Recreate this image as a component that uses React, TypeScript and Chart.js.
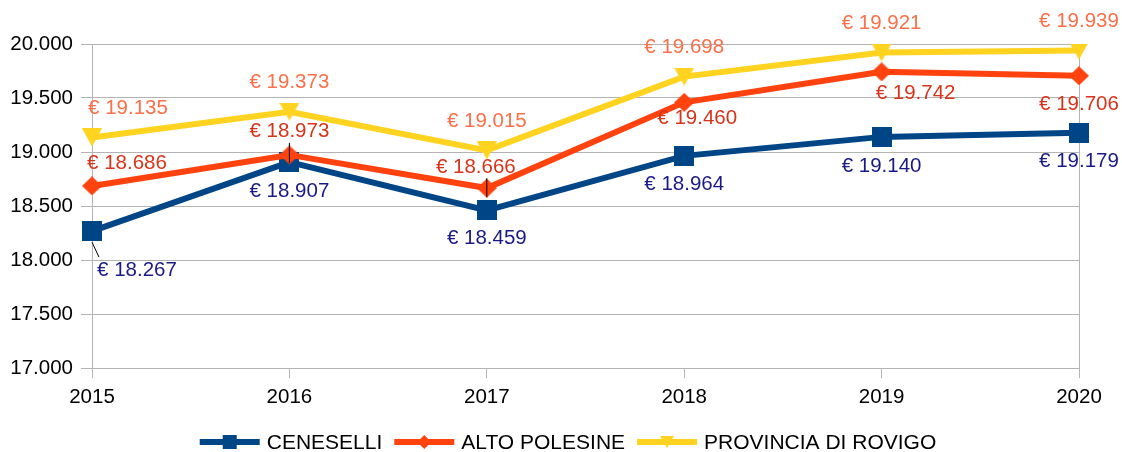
import React, { useEffect, useRef } from 'react';
import { Chart, registerables } from 'chart.js';
Chart.register(...registerables);

const years = ['2015', '2016', '2017', '2018', '2019', '2020'];
const ceneselli = [18267, 18907, 18459, 18964, 19140, 19179];
const altoPolesine = [18686, 18973, 18666, 19460, 19742, 19706];
const provinciaRovigo = [19135, 19373, 19015, 19698, 19921, 19939];
const yMin = 17000;
const yMax = 20000;
const yStep = 500;
const seriesNames = ['CENESELLI', 'ALTO POLESINE', 'PROVINCIA DI ROVIGO'];

const FONT = '"Liberation Sans", Arial, sans-serif';
const FS = 20.5;
const LEGEND_FS = 21;

const lineColors = ['#004586', '#ff420e', '#ffd320'];
const labelColors = ['#1a1a86', '#d8341a', '#fb7048'];
const markerKinds = ['square', 'diamond', 'triangle'];
const markerSizes = [[20, 20], [20, 19], [20, 18]];

// label placement offsets (style), per series per point
const labelOffsets = [
  [[45, 39], [0, 29], [0, 28], [0, 28], [0, 29], [0, 29]],
  [[35, -23], [0, -24], [-11, -21], [13, 16], [34, 21], [0, 29]],
  [[36, -29], [0, -29], [0, -29], [0, -29], [0, -29], [0, -29]],
];
// leader lines (style): [series, point, dx1, dy1, dx2, dy2]
const leaders = [
  [0, 0, 0, 11, 7, 26],
  [1, 1, 0, -12, 0, 8],
  [1, 2, 0, -10, 0, 9],
];

function fmt(v: number) {
  return Math.round(v).toString().replace(/\B(?=(\d{3})+(?!\d))/g, '.');
}

function drawShape(g: CanvasRenderingContext2D, kind: string, x: number, y: number, w: number, h: number) {
  g.beginPath();
  if (kind === 'square') g.rect(x, y, w, h);
  else if (kind === 'diamond') {
    g.moveTo(x + w / 2, y); g.lineTo(x + w, y + h / 2); g.lineTo(x + w / 2, y + h); g.lineTo(x, y + h / 2); g.closePath();
  } else {
    g.moveTo(x, y); g.lineTo(x + w, y); g.lineTo(x + w / 2, y + h); g.closePath();
  }
  g.fill();
}

function makeMarker(kind: string, color: string, w: number, h: number) {
  const c = document.createElement('canvas');
  c.width = w; c.height = h;
  const g = c.getContext('2d')!;
  g.fillStyle = color;
  drawShape(g, kind, 0, 0, w, h);
  return c;
}

export default function App() {
  const ref = useRef<HTMLCanvasElement>(null);
  useEffect(() => {
    const seriesData = [ceneselli, altoPolesine, provinciaRovigo];
    const markers = seriesData.map((_, i) => makeMarker(markerKinds[i], lineColors[i], markerSizes[i][0], markerSizes[i][1]));

    const labelPlugin = {
      id: 'labels',
      afterDatasetsDraw(chart: any) {
        const ctx = chart.ctx;
        ctx.save();
        ctx.strokeStyle = '#000';
        ctx.lineWidth = 1;
        leaders.forEach(([s, p, x1, y1, x2, y2]) => {
          const pt = chart.getDatasetMeta(s).data[p];
          ctx.beginPath();
          ctx.moveTo(pt.x + x1, pt.y + y1);
          ctx.lineTo(pt.x + x2, pt.y + y2);
          ctx.stroke();
        });
        ctx.font = `${FS}px ${FONT}`;
        ctx.textAlign = 'center';
        ctx.textBaseline = 'middle';
        seriesData.forEach((arr, s) => {
          const meta = chart.getDatasetMeta(s);
          ctx.fillStyle = labelColors[s];
          arr.forEach((v, p) => {
            const pt = meta.data[p];
            const [dx, dy] = labelOffsets[s][p];
            ctx.fillText('€ ' + fmt(v), pt.x + dx, pt.y + dy);
          });
        });
        ctx.restore();
      },
    };

    const legendPlugin = {
      id: 'customLegend',
      afterDraw(chart: any) {
        const ctx = chart.ctx;
        ctx.save();
        ctx.font = `${LEGEND_FS}px ${FONT}`;
        const lineW = 60, gapText = 7, gapItem = 12;
        const widths = seriesNames.map((n) => ctx.measureText(n).width);
        const total = widths.reduce((a, w) => a + lineW + gapText + w, 0) + gapItem * (seriesNames.length - 1);
        let x = chart.width / 2 + 7 - total / 2;
        const y = 442;
        seriesNames.forEach((name, i) => {
          ctx.strokeStyle = lineColors[i];
          ctx.lineWidth = 6;
          ctx.beginPath();
          ctx.moveTo(x, y);
          ctx.lineTo(x + lineW, y);
          ctx.stroke();
          ctx.fillStyle = lineColors[i];
          const mw = 14, mh = i === 2 ? 12 : 14;
          drawShape(ctx, markerKinds[i], x + lineW / 2 - mw / 2, y - mh / 2, mw, mh);
          ctx.fillStyle = '#000';
          ctx.textAlign = 'left';
          ctx.textBaseline = 'middle';
          ctx.fillText(name, x + lineW + gapText, y + 1);
          x += lineW + gapText + widths[i] + gapItem;
        });
        ctx.restore();
      },
    };

    const chart = new Chart(ref.current!, {
      type: 'line',
      data: {
        labels: years,
        datasets: seriesData.map((d, i) => ({
          label: seriesNames[i],
          data: d,
          borderColor: lineColors[i],
          backgroundColor: lineColors[i],
          borderWidth: 6,
          pointStyle: markers[i] as any,
          pointRadius: 10,
          tension: 0,
          order: 3 - i,
        })),
      },
      options: {
        responsive: false,
        animation: false,
        layout: { padding: { left: 0, right: 43, top: 44, bottom: 0 } },
        plugins: { legend: { display: false }, tooltip: { enabled: false }, title: { display: false } },
        scales: {
          x: {
            offset: false,
            afterFit: (s: any) => { s.height = 84; },
            grid: {
              color: (c: any) => (c.index === 0 || c.index === years.length - 1 ? '#b3b3b3' : 'rgba(0,0,0,0)'),
              tickColor: '#b3b3b3',
              tickLength: 10,
              lineWidth: 1,
            },
            border: { display: false },
            ticks: { color: '#000', font: { family: FONT, size: FS }, padding: 7, maxRotation: 0 },
          },
          y: {
            min: yMin,
            max: yMax,
            afterFit: (s: any) => { s.width = 92; },
            grid: { color: '#b3b3b3', tickColor: '#b3b3b3', tickLength: 11, lineWidth: 1 },
            border: { display: true, color: '#b3b3b3' },
            ticks: {
              stepSize: yStep,
              color: '#000',
              font: { family: FONT, size: FS },
              padding: 8,
              callback: (v: any) => fmt(Number(v)),
            },
          },
        },
      },
      plugins: [labelPlugin, legendPlugin],
    });
    return () => chart.destroy();
  }, []);
  return (
    <div style={{ position: 'fixed', left: 0, top: 0, width: 1122, height: 452, background: '#fff' }}>
      <canvas ref={ref} width={1122} height={452} />
    </div>
  );
}
